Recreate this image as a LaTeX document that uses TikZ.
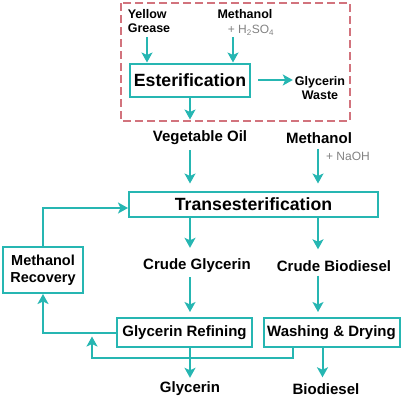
\documentclass[tikz,border=0pt]{standalone}
\usepackage{fontspec}
\setmainfont{Liberation Sans}
\usetikzlibrary{arrows.meta}

\definecolor{flowteal}{RGB}{38,182,178}
\definecolor{framered}{RGB}{210,115,125}
\definecolor{notegray}{RGB}{130,130,130}

\newcommand{\pxsize}[1]{\fontsize{#1}{1.15\dimexpr#1pt\relax}\selectfont}

\begin{document}
\begin{tikzpicture}[x=1pt,y=1pt,
  flow/.style={draw=flowteal,line width=2pt,-{Stealth[length=10pt,width=11pt,inset=2.5pt]}},
  stage/.style={draw=flowteal,line width=2pt,fill=white,inner sep=0pt,font=\bfseries\pxsize{15}},
  txt/.style={inner sep=2pt,font=\bfseries\pxsize{15}},
  small/.style={inner sep=2pt,font=\bfseries\pxsize{12.5},align=center},
  note/.style={inner sep=2pt,text=notegray,font=\pxsize{12}}] %estilos do fluxograma

\useasboundingbox (0,0) rectangle (405,-400);

%----------------------------------------------------
%Etapa de esterificacao (dentro do quadro tracejado)
%----------------------------------------------------
\draw[framered,line width=1.5pt,dash pattern=on 8pt off 4pt] (121,-3) rectangle (350,-121); %quadro tracejado

\node[small,align=left] (grease) at (149,-21) {Yellow\\Grease};
\node[small] (meth1) at (245,-14) {Methanol};
\node[note] (acid) at (251,-30) {+ H\textsubscript{2}SO\textsubscript{4}};
\node[stage,minimum width=120,minimum height=33,font=\bfseries\pxsize{17.7}] (ester) at (190,-80) {Esterification};
\node[small] (waste) at (320,-88) {Glycerin\\Waste};

\draw[flow,shorten <=2pt] ([xshift=-2pt]grease.south) -- ([xshift=-2pt]grease.south |- ester.north);
\draw[flow] ([xshift=-18pt]acid.south) -- ([xshift=-18pt]acid.south |- ester.north);
\draw[flow] ([xshift=7pt]ester.east) -- (ester.east -| waste.west);
\draw[flow] (ester.south) -- ++(0,-22);

%----------------------------------------------------
%Transesterificacao
%----------------------------------------------------
\coordinate (colL) at (190,0); %coluna do glicerol
\coordinate (colR) at (318,0); %coluna do biodiesel

\node[txt] (veg) at (200,-138) {Vegetable Oil};
\node[txt] (meth2) at (319,-138) {Methanol};
\node[note] (base) at (348,-156) {+ NaOH};
\node[stage,minimum width=249,minimum height=25,font=\bfseries\pxsize{17.7}] (trans) at (253.5,-204) {Transesterification};

\draw[flow,shorten <=3pt,shorten >=7pt] (veg.south -| colL) -- (trans.north -| colL);
\draw[flow,shorten <=3pt,shorten >=7pt] (meth2.south -| colR) -- (trans.north -| colR);

\node[txt] (cglyc) at (197,-266) {Crude Glycerin};
\node[txt] (cbio) at (334,-266) {Crude Biodiesel};

\draw[flow,shorten >=9pt] (trans.south -| colL) -- (cglyc.north -| colL);
\draw[flow,shorten >=9pt] (trans.south -| colR) -- (cbio.north -| colR);

%----------------------------------------------------
%Purificacao e recuperacao do metanol
%----------------------------------------------------
\node[stage,minimum width=135,minimum height=29] (refine) at (184.5,-332.5) {Glycerin Refining};
\node[stage,minimum width=136,minimum height=29] (wash) at (331.5,-332.5) {Washing \& Drying};
\node[stage,minimum width=80,minimum height=46,align=center,font=\bfseries\pxsize{14.5}] (recov) at (43,-270) {Methanol\\Recovery};

\draw[flow,shorten <=2pt,shorten >=5pt] (cglyc.south -| colL) -- (refine.north -| colL);
\draw[flow,shorten <=2pt,shorten >=5pt] (cbio.south -| colR) -- (wash.north -| colR);

\node[txt] (glyc) at (190,-389) {Glycerin};
\node[txt] (bio) at (326,-389) {Biodiesel};

\draw[flow,shorten >=2pt] (refine.south -| colL) -- (glyc.north -| colL);
\draw[flow,shorten >=4pt] ([xshift=-9pt]wash.south) -- ([xshift=-9pt]wash.south |- bio.north);

\coordinate (merge) at (92,-332.5); %juncao das duas linhas de retorno
\draw[flow] (refine.west) -| (recov.south);
\draw[flow,shorten >=4pt] ([xshift=-39pt]wash.south) -- ++(0,-10) -| (merge);
\draw[flow] (recov.north) |- ([yshift=-4pt]trans.west);

\end{tikzpicture}
\end{document}
